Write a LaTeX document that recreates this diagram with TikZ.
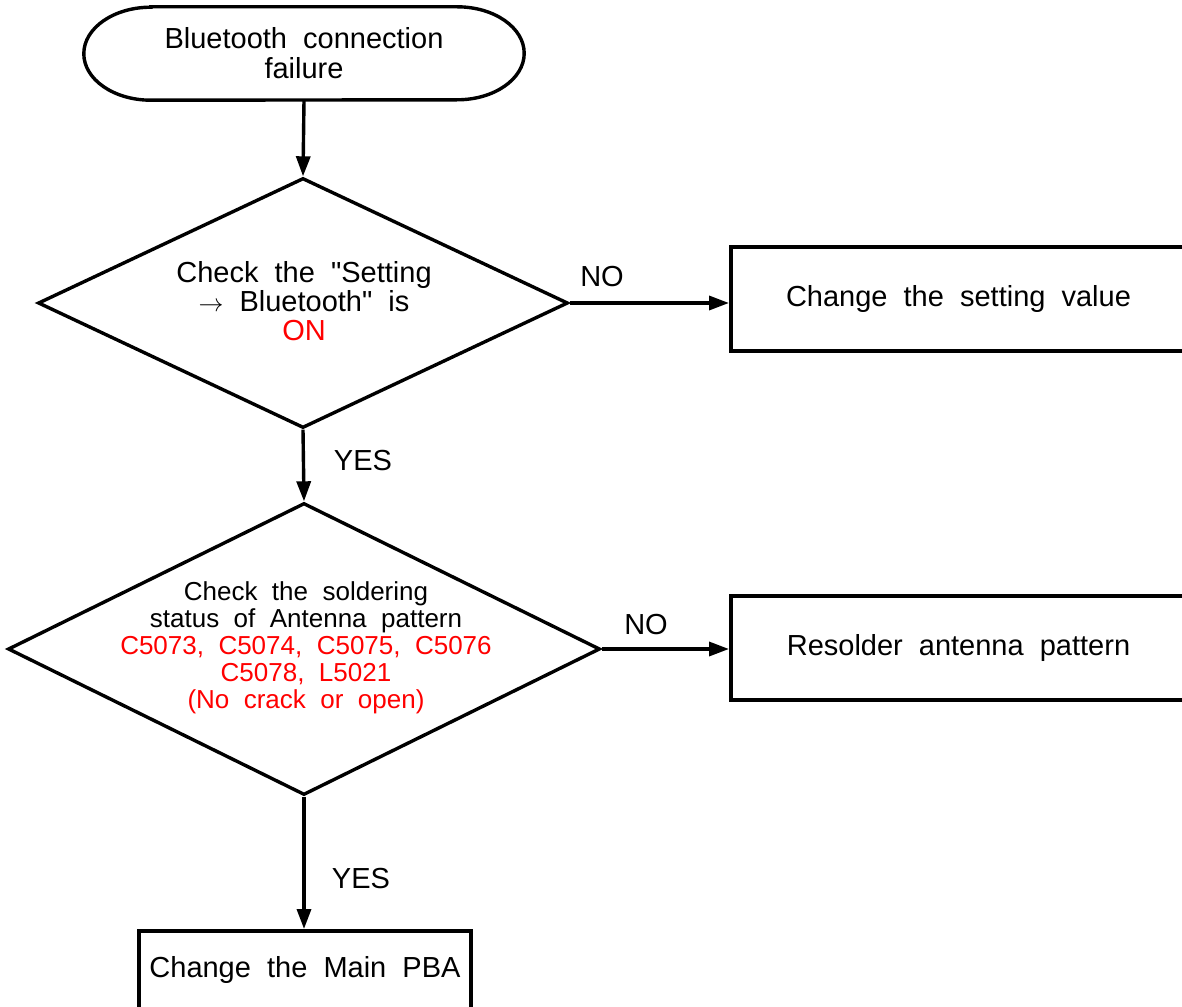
\documentclass[tikz,border=0pt]{standalone}
\usepackage{fontspec}
\setmainfont{Liberation Sans}[WordSpace=2,Ligatures=TeXOff]
\usetikzlibrary{shapes.geometric,arrows.meta}
\newcommand\fsbig{\fontsize{29}{30}\selectfont}
\newcommand\fsmid{\fontsize{29}{29}\selectfont}
\newcommand\fssmall{\fontsize{26}{27}\selectfont}
\tikzset{
  outline/.style={line width=3.4pt},
  arr/.style={line width=3.4pt,-{Triangle[length=20pt,width=14pt]}},
  lbl/.style={font=\fsbig,inner sep=0pt},
  txt/.style={align=center,inner sep=0pt},
  decision/.style={diamond,draw,line width=3.4pt,inner sep=0pt,aspect=2},
  procbox/.style={draw,line width=4pt,inner sep=0pt,font=\fsbig,align=center},
}
\begin{document}
\begin{tikzpicture}[x=1pt,y=-1pt]
\useasboundingbox (0,0) rectangle (1182,1006);
\clip (0,0) rectangle (1182,1006);
\fill[white] (0,0) rectangle (1182,1006);

% start terminator
\node[txt,font=\fsbig,minimum width=440pt,minimum height=93pt] (start) at (304,53.5)
  {Bluetooth connection\\failure};
\draw[outline] ([xshift=67pt]start.north west) -- ([xshift=-67pt]start.north east)
  arc[start angle=90,end angle=-90,x radius=67pt,y radius=46.5pt]
  -- ([xshift=67pt]start.south west)
  arc[start angle=270,end angle=90,x radius=67pt,y radius=46.5pt] -- cycle;

% decision 1
\node[decision,minimum width=530pt,minimum height=250pt] (d1) at (303,303) {};
\node[txt,font=\fsmid] (t1) at (304,301)
  {Check the "Setting\\$\rightarrow$ Bluetooth" is\\\textcolor{red}{ON}};

% box 1
\node[procbox,minimum width=455pt,minimum height=104pt] (b1) at (958.5,299)
  {Change the setting value};

% decision 2
\node[decision,minimum width=592pt,minimum height=292pt] (d2) at (304,649) {};
\node[txt,font=\fssmall] (t2) at (306,648)
  {Check the soldering\\status of Antenna pattern\\
   \textcolor{red}{C5073, C5074, C5075, C5076}\\
   \textcolor{red}{C5078, L5021}\\
   \textcolor{red}{(No crack or open)}};

% box 2
\node[procbox,minimum width=455pt,minimum height=104pt] (b2) at (958.5,648)
  {Resolder antenna pattern};

% box 3
\node[procbox,minimum width=332pt,minimum height=78pt] (b3) at (305,970)
  {Change the Main PBA};

% connectors
\draw[arr] (start.south) -- (d1.north);
\draw[arr] (d1.east) -- (d1.east -| b1.west);
\draw[arr] (d1.south) -- (d2.north);
\draw[arr] (d2.east) -- (d2.east -| b2.west);
\draw[arr] (d2.south) -- (d2.south |- b3.north);

% labels
\node[lbl] (no1) at (602,277) {NO};
\node[lbl] (yes1) at (363,461) {YES};
\node[lbl] (no2) at (646,625) {NO};
\node[lbl] (yes2) at (361,879) {YES};
\end{tikzpicture}
\end{document}
